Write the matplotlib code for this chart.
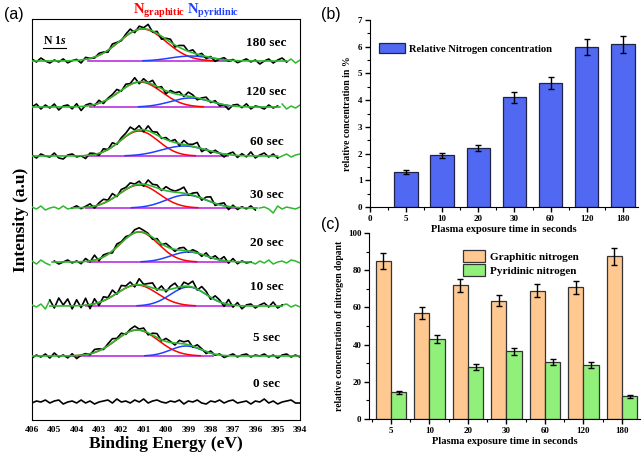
import numpy as np
import matplotlib
matplotlib.use("Agg")
import matplotlib.pyplot as plt
from matplotlib.lines import Line2D

plt.rcParams['font.family'] = ['Liberation Serif', 'DejaVu Serif']
plt.rcParams['font.weight'] = 'bold'
plt.rcParams['axes.labelweight'] = 'bold'
plt.rcParams['mathtext.fontset'] = 'custom'
plt.rcParams['mathtext.rm'] = 'Liberation Serif:bold'
plt.rcParams['mathtext.it'] = 'Liberation Serif:bold:italic'
plt.rcParams['mathtext.bf'] = 'Liberation Serif:bold'

# ---------------- panel (a) data: N 1s spectra ----------------
energy = np.linspace(406, 394, 61)
spec_labels = ['180 sec', '120 sec', '60 sec', '30 sec', '20 sec', '10 sec', '5 sec', '0 sec']
offsets = [359, 313, 264, 212, 158, 114, 64, 18]
label_dy = [18, 15, 14, 13, 19, 19, 18, 18]
# fitted gaussian components (height, centre eV, sigma eV)
graph_h = [32, 25, 25, 23, 30, 21, 26]
graph_c = [401.05, 401.15, 401.2, 401.2, 401.2, 401.3, 401.3]
graph_s = [1.05, 0.95, 0.85, 0.9, 0.85, 0.9, 0.95]
pyr_h = [5, 9, 10, 13, 10, 19, 10]
pyr_c = [398.9, 398.9, 399.2, 399.1, 399.0, 399.0, 399.1]
pyr_s = [0.9, 0.9, 1.0, 0.9, 0.8, 0.8, 0.7]
# measured range of the raw data (eV) and background range
data_hi = [406.0, 406.0, 406.0, 404.2, 405.1, 405.2, 406.0, 406.0]
data_lo = [394.6, 394.9, 395.0, 395.9, 396.2, 394.8, 394.0, 394.0]
bg_hi = [403.5, 403.4, 403.6, 403.6, 403.5, 403.6, 404.4]
bg_lo = [397.1, 397.2, 397.2, 396.9, 397.3, 397.1, 397.9]
# residual noise
resid = [
    [2, -1, 3, 0, -2, 1, -1, 2, -2, 0, 1, -3, 2, 0, -1, 2, 1, -2, 3, 1,
     -1, 2, 4, -2, 3, 1, 5, -1, 2, -3, 1, 3, -2, 2, 4, 0, 3, -1, 2, -2,
     1, -3, 0, 2, -1, 1, -2, 0, 2, -1, 1, -3, 0, 2, -2, 1, 3, -1, 2, -2, 1],
    [0, 3, -2, 2, -1, 3, -3, 1, 2, -2, 3, -4, 1, 2, -1, 3, -2, 1, 2, 4,
     -1, 3, 1, 5, -2, 3, 0, 4, -1, 2, -3, 2, 1, 3, -1, 4, 2, -2, 1, 3,
     -1, 2, -2, 0, -4, 1, 2, -1, 3, -2, 1, 0, -2, 2, -1, 1, 3, -2, 1, -1, 2],
    [1, -2, 2, 0, -1, 3, -2, -3, 1, 2, -1, 0, -3, 2, 1, -2, 3, 0, 4, -1,
     2, 3, 6, 1, 4, -2, 5, 1, 3, -1, 2, 0, 3, -2, 4, 1, 2, 5, -3, 1,
     -2, 2, 0, -3, 1, 3, -2, 2, -1, 4, -2, 1, 3, -1, 2, -2, 0, 2, -1, 1, 2],
    [1, -1, 2, -2, 0, 1, -1, 2, -1, 0, 2, -1, 1, 3, -2, 2, 4, 1, 5, -1,
     3, 2, 4, 1, 3, -2, 5, 2, 3, -1, 4, 2, 1, 3, 6, -1, 2, 4, -2, 3,
     5, -2, 1, 3, -3, 2, -2, 1, -1, 2, -2, 0, 1, -1, -5, 2, -1, 1, 0, -1, 1],
    [1, -2, 2, -1, -3, 1, -2, 0, 2, -1, 1, -2, 3, -1, 5, -2, 2, 1, -2, 3,
     1, 2, 0, 3, 4, 2, 1, -2, 2, -1, 3, 1, -2, 2, 3, -1, 2, 1, -2, 3,
     -1, 3, 0, 4, -2, 3, -2, 1, -1, 0, -2, 1, -1, 2, -2, 0, 1, -1, 2, 1, -1],
    [1, -1, 2, -3, 6, -2, 8, 1, 7, -3, 6, -2, 7, -4, 5, -3, 4, 1, 6, -1,
     5, 2, 4, -2, 6, 1, 3, 5, -1, 4, -2, 3, 5, -2, 4, 2, 6, -1, 5, 3,
     -2, 4, 2, -3, 5, -2, 3, -3, 1, 2, -2, 1, 3, -1, 4, -2, 1, 2, -1, 1, -1],
    [-2, 1, -1, 2, -2, 3, -1, 1, -2, 2, -3, 0, 1, -1, 3, 2, -1, 2, 4, 1,
     3, -1, 2, 4, 1, 3, -2, 2, 4, -1, 3, 1, -2, 3, 2, 4, -1, 3, 1, -2,
     2, -1, 1, -2, 0, 2, -1, 1, 2, -1, 1, 0, 2, -1, 1, -2, 1, 2, -1, 1, -1],
    [-1, 1, 0, 2, -1, 1, 2, -2, 0, 1, -1, 2, -1, 1, -2, 0, 1, 2, -1, 3,
     0, 1, -1, 2, 0, 3, -1, 1, 2, 0, -1, 1, 0, 2, -2, 1, 0, 2, -1, -2,
     1, 0, 2, -1, 1, 2, -1, 0, 1, -2, 1, 0, 3, -1, 1, -2, 0, 1, 2, -1, -1],
]

# ---------------- panel (b) data ----------------
times = ['5', '10', '20', '30', '60', '120', '180']
n_conc = [1.3, 1.93, 2.2, 4.1, 4.65, 6.0, 6.1]
n_conc_err = [0.08, 0.1, 0.12, 0.2, 0.23, 0.3, 0.32]

# ---------------- panel (c) data ----------------
graphitic = [85, 57, 72, 63.5, 69, 70.8, 87.5]
graphitic_err = [4.3, 3.0, 3.5, 3.0, 3.6, 3.6, 4.5]
pyridinic = [14.5, 43, 28, 36.3, 30.5, 29, 12.3]
pyridinic_err = [0.8, 2.0, 1.5, 1.8, 1.6, 1.5, 0.8]

fig = plt.figure(figsize=(6.42, 4.55), dpi=100)

def gauss(x, h, c, s):
    return h * np.exp(-(x - c) ** 2 / (2 * s ** 2))

# ---------------- panel (a) ----------------
axa = fig.add_axes([0.0498, 0.0769, 0.4175, 0.8813])
fine = np.linspace(406, 394, 600)
for k, lab in enumerate(spec_labels):
    off = offsets[k]
    r = np.array(resid[k], dtype=float)
    inside = (energy <= data_hi[k] + 1e-9) & (energy >= data_lo[k] - 1e-9)
    if k < len(graph_h):
        comp_g = gauss(fine, graph_h[k], graph_c[k], graph_s[k])
        comp_p = gauss(fine, pyr_h[k], pyr_c[k], pyr_s[k])
        env_f = comp_g + comp_p
        env = gauss(energy, graph_h[k], graph_c[k], graph_s[k]) + \
            gauss(energy, pyr_h[k], pyr_c[k], pyr_s[k])
        raw = off + env + r
        bgm = (fine <= bg_hi[k]) & (fine >= bg_lo[k])
        axa.plot(fine[bgm], np.full(bgm.sum(), off), color='#C040E0', lw=1.3, zorder=2)
        gm = bgm & (comp_g > 0.3)
        pm = bgm & (comp_p > 0.3)
        axa.plot(fine[gm], off + comp_g[gm], color='red', lw=1.1, zorder=3)
        axa.plot(fine[pm], off + comp_p[pm], color='#2040FF', lw=1.1, zorder=3)
        axa.plot(energy[inside], raw[inside], color='black', lw=1.2, zorder=4)
        # green: smooth envelope where data exist, noisy trace in the wings
        left = energy >= data_hi[k] - 1e-9
        right = energy <= data_lo[k] + 1e-9
        if left.sum() > 1:
            axa.plot(energy[left], raw[left], color='#2DB82D', lw=1.1, zorder=3)
        if right.sum() > 1:
            axa.plot(energy[right], raw[right], color='#2DB82D', lw=1.1, zorder=3)
        em = (fine <= data_hi[k]) & (fine >= data_lo[k])
        axa.plot(fine[em], off + env_f[em], color='#2DB82D', lw=1.2, zorder=5)
    else:
        axa.plot(energy, off + r, color='black', lw=1.2, zorder=4)
    axa.text(395.5, off + label_dy[k], lab, fontsize=9.5, fontweight='bold',
             ha='center', va='center')

axa.set_xlim(406, 394)
axa.set_ylim(0, 401)
axa.set_xticks(np.arange(406, 393, -1))
axa.set_yticks([])
axa.tick_params(axis='x', length=0, pad=4, labelsize=6.8)
for t in axa.get_xticklabels():
    t.set_fontweight('bold')
axa.set_xlabel('Binding Energy (eV)', fontsize=12.5, fontweight='bold', labelpad=2)
axa.set_ylabel('Intensity (a.u)', fontsize=12.5, fontweight='bold', labelpad=2)
n1s = axa.text(0.04, 0.96, r'N $\mathit{1s}$', transform=axa.transAxes,
               fontsize=8.5, fontweight='bold', va='top', ha='left')

fig.text(133 / 642, 1 - 14 / 455, r'N$_{\mathrm{graphitic}}$', color='red',
         fontsize=10.5, fontweight='bold')
fig.text(187 / 642, 1 - 14 / 455, r'N$_{\mathrm{pyridinic}}$', color='#2040FF',
         fontsize=10.5, fontweight='bold')

# ---------------- panel (b) ----------------
axb = fig.add_axes([0.5763, 0.545, 0.4175, 0.411])
pos_b = np.arange(1, len(times) + 1)
axb.bar(pos_b, n_conc, width=0.65, color='#5068F2', edgecolor='#222244', lw=0.9,
        label='Relative Nitrogen concentration', zorder=2)
axb.errorbar(pos_b, n_conc, yerr=n_conc_err, fmt='none', ecolor='black',
             elinewidth=1.0, capsize=2.5, capthick=1.0, zorder=3)
axb.set_xlim(0, 7.42)
axb.set_ylim(0, 7)
axb.set_xticks(np.arange(0, len(times) + 1))
axb.set_xticklabels(['0'] + times)
axb.set_xticks(np.arange(0.5, 7.5, 1), minor=True)
axb.set_yticks(np.arange(0, 8))
axb.set_yticks(np.arange(0.5, 7, 1), minor=True)
axb.spines['top'].set_visible(False)
axb.spines['right'].set_visible(False)
axb.tick_params(which='major', length=3.5, width=1, labelsize=6.5, pad=2)
axb.tick_params(which='minor', length=2, width=0.8)
axb.set_xlabel('Plasma exposure time in seconds', fontsize=7.6, labelpad=2)
axb.set_ylabel('relative concentration in %', fontsize=7, labelpad=4)
axb.legend(loc='upper left', bbox_to_anchor=(0.0, 0.93), frameon=False,
           prop={'size': 7.6, 'weight': 'bold'}, handlelength=2.4,
           handleheight=1.2, handletextpad=0.4)

# ---------------- panel (c) ----------------
axc = fig.add_axes([0.5748, 0.0791, 0.4221, 0.409])
axc.patch.set_alpha(0)
pos_c = np.arange(len(times))
w = 0.4
axc.bar(pos_c - w / 2, graphitic, width=w, color='#FFC890', edgecolor='#333333',
        lw=0.9, label='Graphitic nitrogen', zorder=2)
axc.bar(pos_c + w / 2, pyridinic, width=w, color='#90F07A', edgecolor='#333333',
        lw=0.9, label='Pyridinic nitrogen', zorder=2)
axc.errorbar(pos_c - w / 2, graphitic, yerr=graphitic_err, fmt='none', ecolor='black',
             elinewidth=1.0, capsize=2.5, capthick=1.0, zorder=3)
axc.errorbar(pos_c + w / 2, pyridinic, yerr=pyridinic_err, fmt='none', ecolor='black',
             elinewidth=1.0, capsize=2.5, capthick=1.0, zorder=3)
axc.set_xlim(-0.57, 6.47)
axc.set_ylim(0, 100)
axc.set_xticks(pos_c)
axc.set_xticklabels(times)
axc.set_xticks(np.arange(-0.5, 6.5, 1), minor=True)
axc.set_yticks(np.arange(0, 101, 20))
axc.set_yticks(np.arange(10, 100, 20), minor=True)
axc.spines['top'].set_visible(False)
axc.spines['right'].set_visible(False)
axc.tick_params(which='major', length=3.5, width=1, labelsize=6.5, pad=2)
axc.tick_params(which='minor', length=2, width=0.8)
axc.set_xlabel('Plasma exposure time in seconds', fontsize=7.6, labelpad=2)
axc.set_ylabel('relative concentration of nitrogen dopant', fontsize=6.9, labelpad=3)
axc.legend(loc='upper left', bbox_to_anchor=(0.31, 0.96), frameon=False,
           prop={'size': 8, 'weight': 'bold'}, handlelength=2.0,
           handleheight=1.3, handletextpad=0.4, labelspacing=0.15)

# panel letters
for lab, x, y in [('(a)', 4, 15), ('(b)', 321, 15), ('(c)', 321, 224)]:
    fig.text(x / 642, 1 - y / 455, lab, fontsize=11.5, fontweight='normal',
             family=['Liberation Sans', 'DejaVu Sans'], va='center', ha='left')

# underline for the N 1s tag
fig.canvas.draw()
bb = n1s.get_window_extent().transformed(fig.transFigure.inverted())
fig.add_artist(Line2D([bb.x0, bb.x1], [bb.y0 - 0.002, bb.y0 - 0.002],
                      transform=fig.transFigure, color='black', lw=0.8))

fig.savefig('out.png', dpi=100)
